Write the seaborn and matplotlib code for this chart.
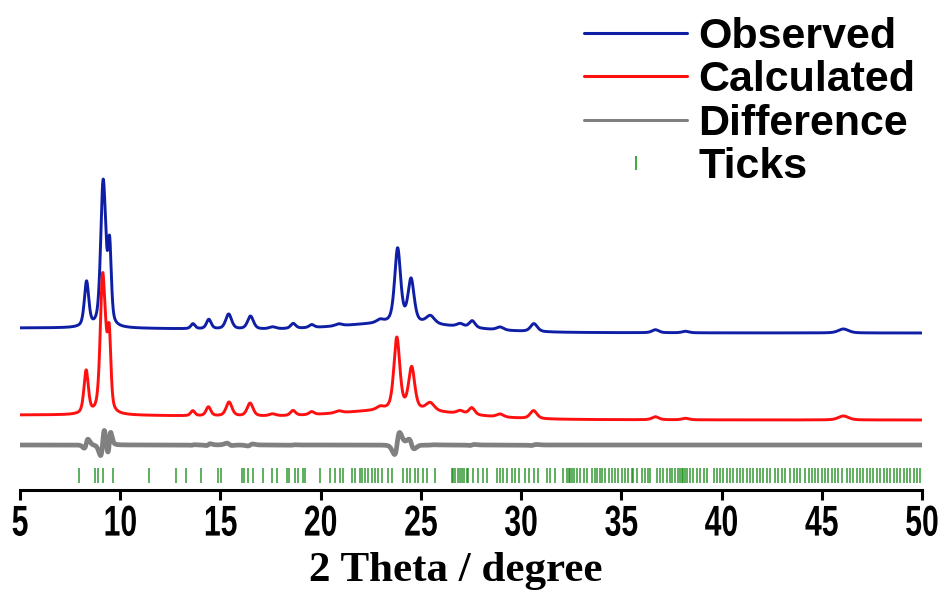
import numpy as np
import pandas as pd
import matplotlib
matplotlib.use("Agg")
import matplotlib.pyplot as plt
import seaborn as sns
from matplotlib.lines import Line2D
from matplotlib.font_manager import FontProperties
from matplotlib.patheffects import AbstractPathEffect
from matplotlib.transforms import Affine2D

# ---- reflection parameters: position (2theta, deg), height (a.u.), FWHM (deg)
calc_pos = [8.30, 9.12, 9.28, 9.45, 13.62, 14.40, 15.43, 16.48, 17.60, 18.62,
            19.55, 20.90, 22.96, 23.80, 24.54, 25.46, 26.96, 27.54, 28.95,
            30.62, 36.70, 38.20, 46.08]
calc_height = [43, 133, 25, 75, 5, 9, 14, 13, 2, 5,
               3, 2, 3, 72, 42, 8, 3, 7, 3,
               8, 3, 1.5, 4]
calc_fwhm = [0.26, 0.28, 0.20, 0.20, 0.25, 0.28, 0.35, 0.35, 0.40, 0.30,
             0.30, 0.40, 0.40, 0.35, 0.36, 0.50, 0.40, 0.35, 0.40,
             0.40, 0.40, 0.40, 0.60]

obs_pos = [8.32, 9.14, 9.26, 9.47, 13.63, 14.42, 15.41, 16.50, 17.60, 18.63,
           19.55, 20.90, 22.96, 23.84, 24.51, 25.47, 26.96, 27.56, 28.95,
           30.64, 36.70, 38.20, 46.08]
obs_height = [45, 136, 22, 78, 5, 9.5, 15, 13, 2, 5,
              3, 2, 3, 74, 43, 8, 3, 7, 3,
              8, 3, 1.5, 4]

# ---- background: low-angle scatter and amorphous hump
bkg_pos = [5.0, 24.0]
bkg_height = [5.0, 8.0]
bkg_fwhm = [30.0, 7.0]

# ---- Bragg reflection positions (2theta, deg)
tick_pos = [7.96, 8.76, 8.88, 9.16, 9.62, 11.45, 12.78, 13.28, 14.02, 14.87,
            15.03, 16.06, 16.18, 16.39, 16.64, 17.14, 17.56, 17.81, 18.31,
            18.42, 18.72, 18.85, 19.14, 19.22, 19.97, 20.47, 20.71, 20.96,
            21.13, 21.55, 21.71, 21.96, 22.04, 22.21, 22.37, 22.54, 22.71,
            22.88, 23.05, 23.38, 23.55, 24.13, 24.29, 24.46, 24.71, 24.87,
            25.12, 25.29, 25.71, 26.54, 26.62, 26.71, 26.87, 26.96, 27.04,
            27.16, 27.29, 27.37, 27.62, 27.87, 28.12, 28.29, 28.79, 28.95,
            29.12, 29.29, 29.54, 29.70, 29.87, 30.20, 30.37, 30.62, 30.82,
            31.28, 31.45, 31.70, 32.11, 32.28, 32.37, 32.45, 32.53, 32.62,
            32.78, 32.95, 33.12, 33.28, 33.53, 33.70, 33.78, 33.95, 34.02,
            34.19, 34.36, 34.52, 34.69, 34.85, 35.02, 35.19, 35.35, 35.52,
            35.60, 35.77, 36.02, 36.19, 36.35, 36.43, 36.77, 36.93, 37.10,
            37.27, 37.43, 37.52, 37.68, 37.85, 37.93, 38.02, 38.10, 38.18,
            38.26, 38.43, 38.60, 38.76, 38.93, 39.10, 39.26, 39.60, 39.76,
            39.93, 40.09, 40.26, 40.43, 40.59, 40.76, 40.93, 41.09, 41.26,
            41.43, 41.59, 41.76, 41.92, 42.09, 42.26, 42.42, 42.67, 42.84,
            43.01, 43.17, 43.42, 43.59, 43.75, 43.92, 44.17, 44.34, 44.50,
            44.67, 44.83, 45.00, 45.17, 45.33, 45.50, 45.67, 45.83, 46.00,
            46.25, 46.41, 46.58, 46.75, 46.91, 47.08, 47.25, 47.41, 47.58,
            47.75, 47.91, 48.08, 48.25, 48.41, 48.58, 48.74, 48.91, 49.08,
            49.24, 49.41, 49.58, 49.74, 49.91]

x_ticks = [5, 10, 15, 20, 25, 30, 35, 40, 45, 50]


def pseudo_voigt(x, centers, heights, widths, eta=0.5):
    y = np.zeros_like(x)
    for c, h, w in zip(centers, heights, widths):
        d = (x - c) / w
        g = np.exp(-4 * np.log(2) * d ** 2)
        l = 1.0 / (1.0 + 4 * d ** 2)
        y += h * (eta * l + (1 - eta) * g)
    return y


class Narrow(AbstractPathEffect):
    """Draw glyphs compressed horizontally about their own centre."""

    def __init__(self, sx=0.72):
        super().__init__()
        self.sx = sx

    def draw_path(self, renderer, gc, tpath, affine, rgbFace=None):
        ext = tpath.get_extents()
        cx = 0.5 * (ext.x0 + ext.x1)
        squeeze = Affine2D().translate(-cx, 0).scale(self.sx, 1).translate(cx, 0)
        renderer.draw_path(gc, tpath, squeeze + affine, rgbFace)


two_theta = np.arange(5.0, 50.0001, 0.01)
background = pseudo_voigt(two_theta, bkg_pos, bkg_height, bkg_fwhm, eta=0.0)
calc = background + pseudo_voigt(two_theta, calc_pos, calc_height, calc_fwhm)
obs = background + pseudo_voigt(two_theta, obs_pos, obs_height, calc_fwhm)
diff = obs - calc

obs_offset = 87
diff_offset = -25
tick_lo, tick_hi = -63, -48

df = pd.DataFrame({
    "two_theta": two_theta,
    "Observed": obs + obs_offset,
    "Calculated": calc,
    "Difference": diff + diff_offset,
})

sns.set_style("white")
plt.rcParams["font.family"] = ["Liberation Sans", "DejaVu Sans"]
plt.rcParams["text.color"] = "black"
plt.rcParams["axes.labelcolor"] = "black"
plt.rcParams["xtick.color"] = "black"

fig = plt.figure(figsize=(9.47, 5.92), dpi=100)
ax = fig.add_axes([20 / 947, 1 - 490 / 592, 902 / 947, 480 / 592])

colors = {"Observed": "#0f1fa5", "Calculated": "#ff1010", "Difference": "#808080"}
widths = {"Observed": 2.1, "Calculated": 2.1, "Difference": 3.4}
for name in ["Observed", "Calculated", "Difference"]:
    sns.lineplot(data=df, x="two_theta", y=name, ax=ax, color=colors[name],
                 lw=widths[name], estimator=None, sort=False)

ax.vlines(tick_pos, tick_lo, tick_hi, color="#138a13", lw=1.2, alpha=0.8)

ax.set_xlim(5, 50)
ax.set_ylim(-70, 410)
ax.set_xticks(x_ticks)
ax.set_xticklabels([str(t) for t in x_ticks])
ax.set_yticks([])
ax.set_ylabel("")
for side in ["left", "right", "top"]:
    ax.spines[side].set_visible(False)
ax.spines["bottom"].set_linewidth(2.2)
ax.spines["bottom"].set_color("black")
ax.tick_params(axis="x", direction="out", length=7.5, width=2.2, color="black",
               pad=3, bottom=True)
for lab in ax.get_xticklabels():
    lab.set_fontfamily("Liberation Sans")
    lab.set_fontweight("bold")
    lab.set_fontsize(31)
    lab.set_color("black")
    lab.set_path_effects([Narrow(0.70)])

ax.set_xlabel("2 Theta / degree", fontfamily=["Liberation Serif", "DejaVu Serif"],
              fontweight="bold", fontsize=31, color="black")
ax.xaxis.set_label_coords(0.483, -0.13)

handles = [
    Line2D([], [], color=colors["Observed"], lw=2.2),
    Line2D([], [], color=colors["Calculated"], lw=2.2),
    Line2D([], [], color=colors["Difference"], lw=2.2),
    Line2D([], [], color="#2ca02c", marker="|", linestyle="None",
           markersize=10, markeredgewidth=1.3),
]
labels = ["Observed", "Calculated", "Difference", "Ticks"]
ax.legend(handles, labels, loc="upper left",
          bbox_to_anchor=(584 / 947, 1 - 17 / 592), bbox_transform=fig.transFigure,
          frameon=False, prop=FontProperties(family="Liberation Sans", weight="bold", size=31),
          handlelength=2.4, handletextpad=0.25, labelspacing=0.08,
          borderpad=0, borderaxespad=0)

fig.savefig("out.png", dpi=100)
